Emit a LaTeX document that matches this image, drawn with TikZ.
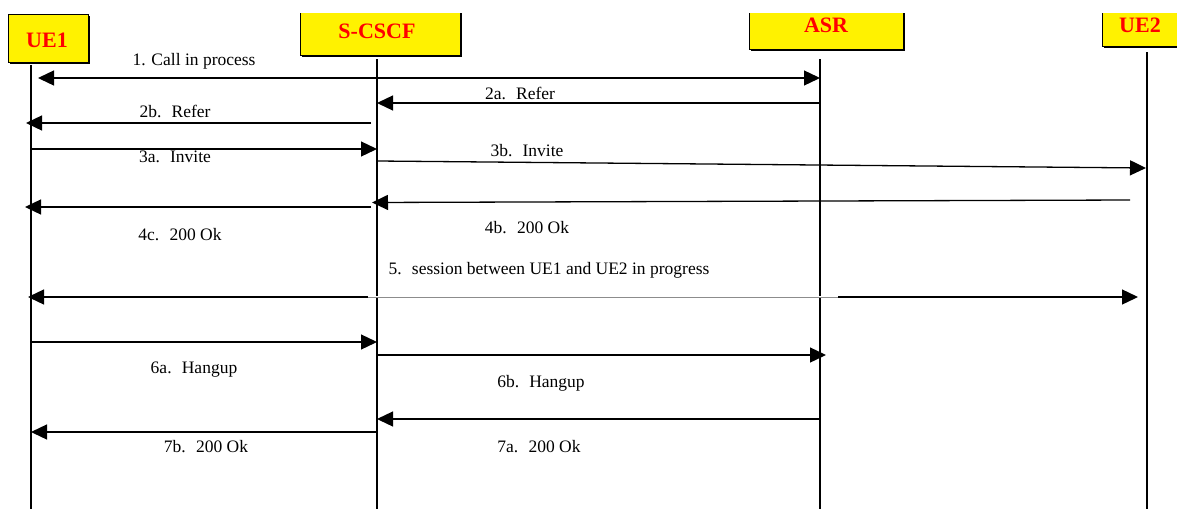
\documentclass[tikz,border=0pt]{standalone}
\usepackage{fontspec}
\setmainfont{Liberation Serif}
\usetikzlibrary{arrows.meta,shadows}
\begin{document}
\begin{tikzpicture}[x=1pt,y=-1pt,
  box/.style={draw=black, line width=1pt, fill=yellow, inner sep=0pt,
    drop shadow={shadow xshift=2pt, shadow yshift=-2pt, opacity=1, fill=black}},
  actor/.style={text=red, font=\fontsize{22}{24}\selectfont\bfseries, inner sep=0pt},
  life/.style={line width=1.3pt},
  tip/.tip={Triangle[length=16pt,width=15pt]},
  msg/.style={line width=1.3pt, -tip},
  dmsg/.style={line width=1.3pt, tip-tip},
  lbl/.style={font=\fontsize{17.5}{20}\selectfont, inner sep=0pt}]
\useasboundingbox (0,0) rectangle (1177,509);
\fill[white] (0,0) rectangle (1177,509);

% participant boxes (the top edge runs off the sheet)
\begin{scope}
  \clip (0,13) rectangle (1177,509);
  \node[box, minimum width=80pt, minimum height=48pt] (ue1) at (48,38) {};
  \node[box, minimum width=160pt, minimum height=50pt] (scscf) at (380,30) {};
  \node[box, minimum width=154pt, minimum height=44pt] (asr) at (826,27) {};
  \node[box, minimum width=90pt, minimum height=41pt] (ue2) at (1147,25.5) {};
\end{scope}
\node[actor] (ue1-name) at (47,40) {UE1};
\node[actor] (scscf-name) at (377,31) {S-CSCF};
\node[actor] (asr-name) at (826,25) {ASR};
\node[actor] (ue2-name) at (1140,25) {UE2};

% lifelines
\coordinate (L1t) at (31,65);   \coordinate (L1b) at (31,509);
\coordinate (L2t) at (377,59);  \coordinate (L2b) at (377,509);
\coordinate (L3t) at (820,59);  \coordinate (L3b) at (820,509);
\coordinate (L4t) at (1147,52); \coordinate (L4b) at (1147,509);
\draw[life] (L1t) -- (L1b);
\draw[life] (L2t) -- (L2b);
\draw[life] (L3t) -- (L3b);
\draw[life] (L4t) -- (L4b);

% 1. call in process
\coordinate (m1a) at (38,78);   \coordinate (m1b) at (820,78);
\draw[dmsg] (m1a) -- (m1b);
\node[lbl] (t1) at (194,61) {1. Call in process};

% 2a / 2b refer
\coordinate (m2a1) at (820,103); \coordinate (m2a2) at (377,103);
\draw[msg] (m2a1) -- (m2a2);
\node[lbl] (t2a) at (520,93) {2a.~ Refer};
\coordinate (m2b1) at (371,123); \coordinate (m2b2) at (26,123);
\draw[msg] (m2b1) -- (m2b2);
\node[lbl] (t2b) at (175,111) {2b.~ Refer};

% 3a / 3b invite
\coordinate (m3a1) at (31,149);  \coordinate (m3a2) at (377,149);
\draw[msg] (m3a1) -- (m3a2);
\node[lbl] (t3a) at (175,157) {3a.~ Invite};
\coordinate (m3b1) at (378,161); \coordinate (m3b2) at (1146,168);
\draw[msg] (m3b1) -- (m3b2);
\node[lbl] (t3b) at (527,151) {3b.~ Invite};

% 4b / 4c 200 ok
\coordinate (m4b1) at (1130,200); \coordinate (m4b2) at (372,202.5);
\draw[msg] (m4b1) -- (m4b2);
\node[lbl] (t4b) at (527,228) {4b.~ 200 Ok};
\coordinate (m4c1) at (371,207); \coordinate (m4c2) at (25,207);
\draw[msg] (m4c1) -- (m4c2);
\node[lbl] (t4c) at (180,235) {4c.~ 200 Ok};

% 5. session
\coordinate (m5a) at (28,297);  \coordinate (m5b) at (1138,297);
\coordinate (m5g1) at (368,297); \coordinate (m5g2) at (838,297);
\draw[dmsg] (m5a) -- (m5b);
\draw[white, line width=1.6pt] (m5g1) -- (m5g2);
\draw[black!45, line width=0.8pt] (m5g1) -- (m5g2);
\node[lbl] (t5) at (549,270) {5.~ session between UE1 and UE2 in progress};

% 6a / 6b hangup
\coordinate (m6a1) at (31,342);  \coordinate (m6a2) at (377,342);
\draw[msg] (m6a1) -- (m6a2);
\node[lbl] (t6a) at (194,370) {6a.~ Hangup};
\coordinate (m6b1) at (377,355); \coordinate (m6b2) at (826,355);
\draw[msg] (m6b1) -- (m6b2);
\node[lbl] (t6b) at (541,383) {6b.~ Hangup};

% 7a / 7b 200 ok
\coordinate (m7a1) at (820,419); \coordinate (m7a2) at (377,419);
\draw[msg] (m7a1) -- (m7a2);
\node[lbl] (t7a) at (539,447) {7a.~ 200 Ok};
\coordinate (m7b1) at (377,432); \coordinate (m7b2) at (31,432);
\draw[msg] (m7b1) -- (m7b2);
\node[lbl] (t7b) at (206,447) {7b.~ 200 Ok};
\end{tikzpicture}
\end{document}
